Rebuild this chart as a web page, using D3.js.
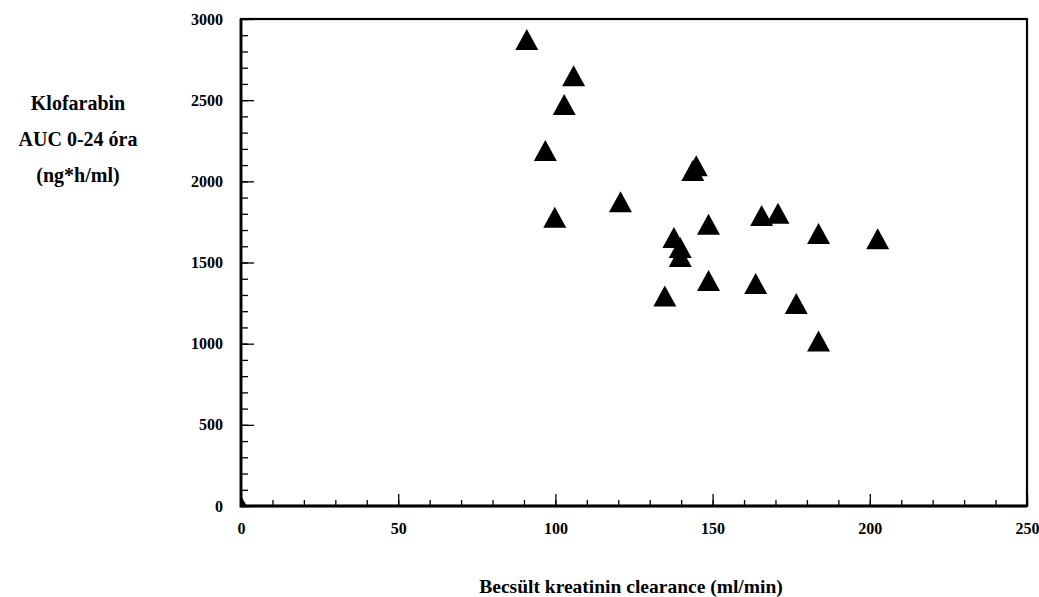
<!DOCTYPE html>
<html>
<head>
<meta charset="utf-8">
<script src="https://cdn.jsdelivr.net/npm/d3@7"></script>
<style>
  html, body { margin: 0; padding: 0; background: #fff; }
  svg text { font-family: "Liberation Serif", "Times New Roman", serif; font-weight: bold; fill: #000; }
</style>
</head>
<body>
<div id="chart"></div>
<script>
// clearance (ml/min) and AUC 0-24h (ng*h/ml)
const clearance = [0, 90.9, 105.8, 102.8, 96.8, 120.7, 99.8, 143.7, 144.8, 148.7, 165.6, 170.8,
  183.7, 202.5, 137.7, 139.7, 139.7, 148.7, 163.7, 134.8, 176.6, 183.7];
const auc = [0, 2873, 2650, 2473, 2190, 1875, 1778, 2066, 2096, 1735, 1789, 1803,
  1678, 1647, 1654, 1592, 1537, 1389, 1371, 1293, 1248, 1016];

const xTicks = [0, 50, 100, 150, 200, 250];
const yTicks = [0, 500, 1000, 1500, 2000, 2500, 3000];
const yTitleLines = ["Klofarabin", "AUC 0-24 óra", "(ng*h/ml)"];
const xTitle = "Becsült kreatinin clearance (ml/min)";

const w = 1039;
const h = 597;
const plotLeft = 241, plotRight = 1027, plotTop = 19, plotBottom = 506;

const svg = d3.select("#chart").append("svg").attr("width", w).attr("height", h);

const xScale = d3.scaleLinear().domain([0, 250]).range([plotLeft, plotRight]);
const yScale = d3.scaleLinear().domain([0, 3000]).range([plotBottom, plotTop]);

// minor ticks
svg.append("g")
  .attr("transform", `translate(0,${plotBottom})`)
  .call(d3.axisBottom(xScale).tickValues(d3.range(0, 251, 10)).tickSize(-6).tickSizeOuter(0).tickFormat(""))
  .call(g => g.select(".domain").remove());
svg.append("g")
  .attr("transform", `translate(${plotLeft},0)`)
  .call(d3.axisLeft(yScale).tickValues(d3.range(0, 3001, 100)).tickSize(-7).tickSizeOuter(0).tickFormat(""))
  .call(g => g.select(".domain").remove());

// major ticks + labels
const xAxis = svg.append("g")
  .attr("transform", `translate(0,${plotBottom})`)
  .call(d3.axisBottom(xScale).tickValues(xTicks).tickSize(-12).tickSizeOuter(0).tickPadding(17).tickFormat(d3.format("d")));
xAxis.select(".domain").remove();
xAxis.selectAll("text").style("font-size", "16px");
xAxis.attr("font-family", null);

const yAxis = svg.append("g")
  .attr("transform", `translate(${plotLeft},0)`)
  .call(d3.axisLeft(yScale).tickValues(yTicks).tickSize(-13).tickSizeOuter(0).tickPadding(18).tickFormat(d3.format("d")));
yAxis.select(".domain").remove();
yAxis.selectAll("text").style("font-size", "16px");
yAxis.attr("font-family", null);

svg.selectAll(".tick line").attr("stroke", "#000").attr("stroke-width", 1.3);

// frame: thin top/right, heavier axes
svg.append("rect")
  .attr("x", plotLeft).attr("y", plotTop)
  .attr("width", plotRight - plotLeft).attr("height", plotBottom - plotTop)
  .attr("fill", "none").attr("stroke", "#000").attr("stroke-width", 2.2);
svg.append("path")
  .attr("d", `M${plotLeft},${plotTop}V${plotBottom}H${plotRight}`)
  .attr("fill", "none").attr("stroke", "#000").attr("stroke-width", 2.8);

// points
svg.append("clipPath").attr("id", "plotClip")
  .append("rect").attr("x", plotLeft).attr("y", plotTop)
  .attr("width", plotRight - plotLeft).attr("height", plotBottom - plotTop);

const tri = "M0,-10.5L11.5,10.5L-11.5,10.5Z";
svg.append("g").attr("clip-path", "url(#plotClip)")
  .selectAll("path")
  .data(clearance)
  .enter()
  .append("path")
  .attr("d", tri)
  .attr("transform", (d, i) => `translate(${xScale(d)},${yScale(auc[i])})`)
  .attr("fill", "#000");

// titles
svg.selectAll(".ytitle")
  .data(yTitleLines)
  .enter()
  .append("text")
  .attr("class", "ytitle")
  .attr("x", 78)
  .attr("y", (d, i) => 110 + i * 36)
  .attr("text-anchor", "middle")
  .style("font-size", "20px")
  .text(d => d);

svg.append("text")
  .attr("x", 631)
  .attr("y", 593)
  .attr("text-anchor", "middle")
  .style("font-size", "19.5px")
  .text(xTitle);
</script>
</body>
</html>
